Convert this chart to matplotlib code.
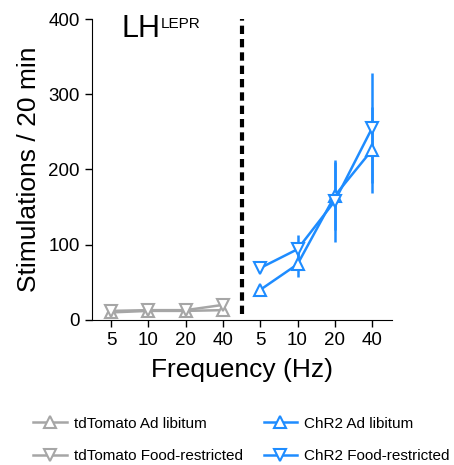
import matplotlib
matplotlib.use("Agg")
import matplotlib.pyplot as plt
from matplotlib.lines import Line2D

plt.rcParams["font.family"] = ["Liberation Sans", "DejaVu Sans"]

freqs = ["5", "10", "20", "40"]
# tdTomato (control) groups
td_adlib = [10, 12, 12, 13]
td_adlib_err = [2, 2, 2, 3]
td_fr = [12, 13, 13, 20]
td_fr_err = [2, 2, 2, 4]
# ChR2 groups
chr2_adlib = [40, 74, 165, 226]
chr2_adlib_err = [4, 17, 45, 57]
chr2_fr = [69, 94, 158, 255]
chr2_fr_err = [4, 19, 55, 73]

GREY = "#a6a6a6"
BLUE = "#1e8cff"

fig = plt.figure(figsize=(4.54, 4.65), dpi=100)
ax = fig.add_axes([0.203, 0.312, 0.66, 0.647])

xl = [0, 1, 2, 3]
xr = [4, 5, 6, 7]
mk = dict(markersize=9, markerfacecolor="white", markeredgewidth=1.5, lw=1.8,
          elinewidth=1.8, capsize=0)
ax.errorbar(xl, td_adlib, yerr=td_adlib_err, marker="^", color=GREY, **mk)
ax.errorbar(xl, td_fr, yerr=td_fr_err, marker="v", color=GREY, **mk)
ax.errorbar(xr, chr2_adlib, yerr=chr2_adlib_err, marker="^", color=BLUE, **mk)
ax.errorbar(xr, chr2_fr, yerr=chr2_fr_err, marker="v", color=BLUE, **mk)

ax.axvline(3.5, ymin=0.02, ymax=1.0, color="black", lw=3, ls=(0, (2, 1.2)))

ax.set_xlim(-0.51, 7.53)
ax.set_ylim(0, 400)
ax.set_yticks([0, 100, 200, 300, 400])
ax.set_xticks(xl + xr)
ax.set_xticklabels(freqs + freqs)
ax.tick_params(labelsize=13.5, length=5, width=1, direction="out", pad=4)
for s in ["top", "right"]:
    ax.spines[s].set_visible(False)
ax.set_ylabel("Stimulations / 20 min", fontsize=19, labelpad=5)
ax.set_xlabel("Frequency (Hz)", fontsize=19, labelpad=6)
ax.text(0.27, 376, "LH", fontsize=22, ha="left", va="baseline")
ax.text(1.34, 388, "LEPR", fontsize=11, ha="left", va="baseline")

handles = [
    Line2D([], [], color=GREY, marker="^", markerfacecolor="white", markersize=9,
           markeredgewidth=1.5, lw=1.8),
    Line2D([], [], color=GREY, marker="v", markerfacecolor="white", markersize=9,
           markeredgewidth=1.5, lw=1.8),
    Line2D([], [], color=BLUE, marker="^", markerfacecolor="white", markersize=9,
           markeredgewidth=1.5, lw=1.8),
    Line2D([], [], color=BLUE, marker="v", markerfacecolor="white", markersize=9,
           markeredgewidth=1.5, lw=1.8),
]
labels = ["tdTomato Ad libitum", "tdTomato Food-restricted",
          "ChR2 Ad libitum", "ChR2 Food-restricted"]
fig.legend(handles, labels, ncol=2, loc="lower center", bbox_to_anchor=(0.532, -0.025),
           frameon=False, fontsize=11, handlelength=2.2, columnspacing=1.35,
           handletextpad=0.45, labelspacing=1.2)

fig.savefig("out.png", dpi=100)
